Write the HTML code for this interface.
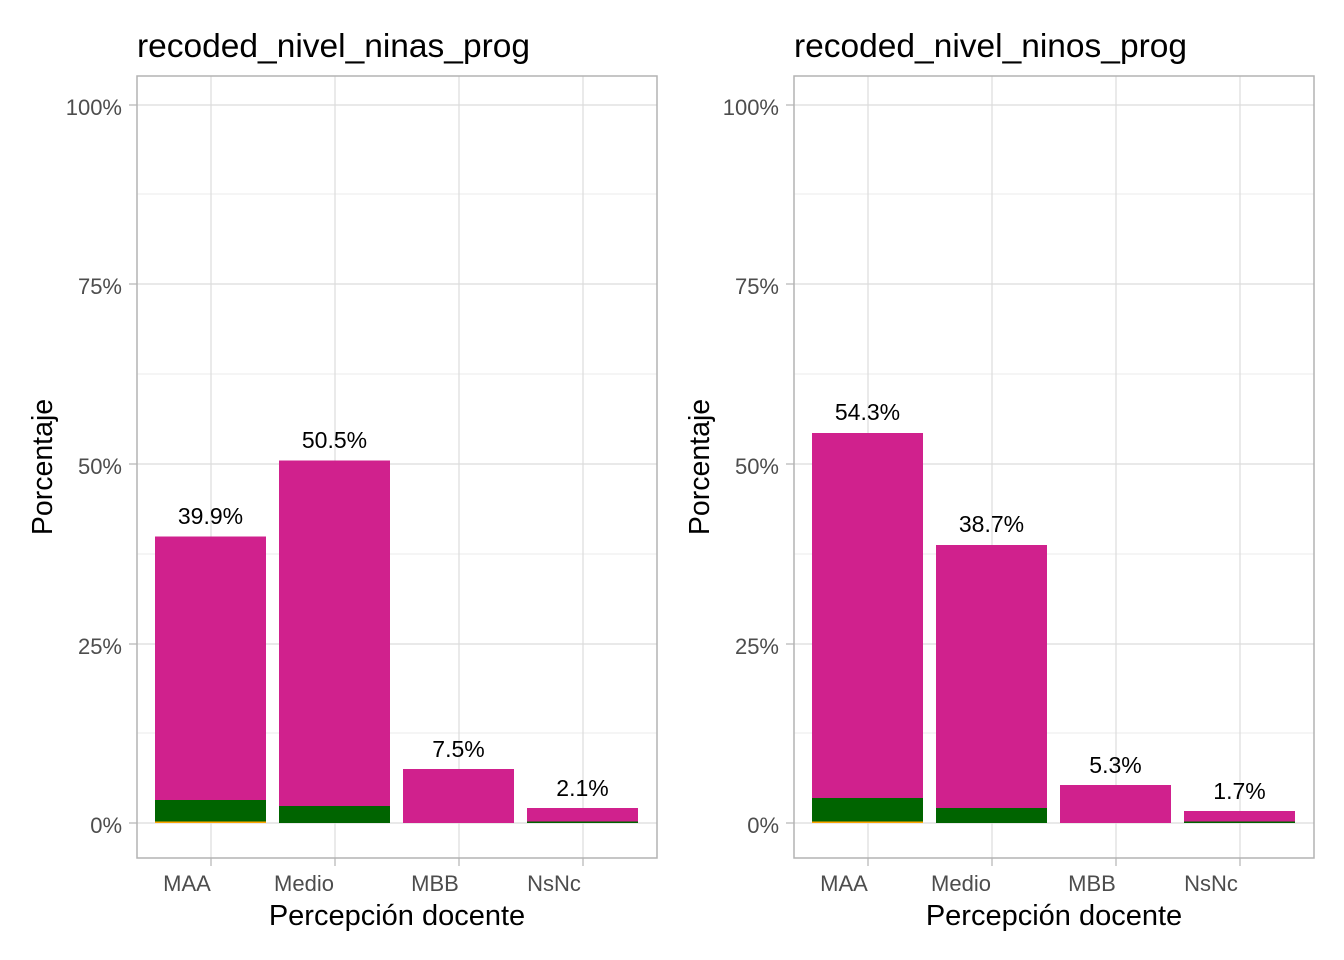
<!DOCTYPE html>
<html><head><meta charset="utf-8"><style>body{margin:0;background:#fff}svg{display:block}text{font-family:"Liberation Sans",Arial,sans-serif}</style></head>
<body>
<svg width="1344" height="960" viewBox="0 0 1344 960" xmlns="http://www.w3.org/2000/svg">
<defs>
<g id="frame">
  <g stroke="#ebebeb" stroke-width="1">
    <line x1="137" x2="657" y1="194" y2="194"/><line x1="137" x2="657" y1="374" y2="374"/>
    <line x1="137" x2="657" y1="554" y2="554"/><line x1="137" x2="657" y1="733" y2="733"/>
  </g>
  <g stroke="#dcdcdc" stroke-width="1.2">
    <line x1="137" x2="657" y1="105" y2="105"/><line x1="137" x2="657" y1="284" y2="284"/>
    <line x1="137" x2="657" y1="464" y2="464"/><line x1="137" x2="657" y1="644" y2="644"/>
    <line x1="137" x2="657" y1="823" y2="823"/>
    <line x1="211" x2="211" y1="76" y2="858"/><line x1="335" x2="335" y1="76" y2="858"/>
    <line x1="459" x2="459" y1="76" y2="858"/><line x1="583" x2="583" y1="76" y2="858"/>
  </g>
  <g stroke="#b3b3b3" stroke-width="1.2">
    <line x1="129" x2="137" y1="105" y2="105"/><line x1="129" x2="137" y1="284" y2="284"/>
    <line x1="129" x2="137" y1="464" y2="464"/><line x1="129" x2="137" y1="644" y2="644"/>
    <line x1="129" x2="137" y1="823" y2="823"/>
    <line x1="211" x2="211" y1="858" y2="866"/><line x1="335" x2="335" y1="858" y2="866"/>
    <line x1="459" x2="459" y1="858" y2="866"/><line x1="583" x2="583" y1="858" y2="866"/>
  </g>
  <g font-size="22" fill="#4d4d4d" text-anchor="end">
    <text x="122" y="115">100%</text><text x="122" y="294">75%</text>
    <text x="122" y="474">50%</text><text x="122" y="654">25%</text><text x="122" y="833">0%</text>
  </g>
  <g font-size="22" fill="#4d4d4d" text-anchor="middle">
    <text x="187" y="891">MAA</text><text x="304" y="891">Medio</text>
    <text x="435" y="891">MBB</text><text x="554" y="891">NsNc</text>
  </g>
  <text x="397" y="925" font-size="29" text-anchor="middle" fill="#000">Percepción docente</text>
  <text transform="translate(52,467) rotate(-90)" font-size="28.5" text-anchor="middle" fill="#000">Porcentaje</text>
</g>
</defs>

<use href="#frame"/>
<g>
  <rect x="155" y="536.5" width="111" height="286.5" fill="#d0218d"/>
  <rect x="155" y="800" width="111" height="23" fill="#006400"/>
  <rect x="155" y="821.5" width="111" height="1.5" fill="#ffa500"/>
  <rect x="279" y="460.5" width="111" height="362.5" fill="#d0218d"/>
  <rect x="279" y="806" width="111" height="17" fill="#006400"/>
  <rect x="403" y="769" width="111" height="54" fill="#d0218d"/>
  <rect x="527" y="808" width="111" height="15" fill="#d0218d"/>
  <rect x="527" y="821.5" width="111" height="1.5" fill="#006400"/>
  <g font-size="23" text-anchor="middle" fill="#000">
    <text x="210.5" y="524">39.9%</text><text x="334.5" y="448">50.5%</text>
    <text x="458.5" y="757">7.5%</text><text x="582.5" y="796">2.1%</text>
  </g>
  <text x="137" y="57" font-size="33.5" fill="#000">recoded_nivel_ninas_prog</text>
  <rect x="137" y="76" width="520" height="782" fill="none" stroke="#b3b3b3" stroke-width="1.5"/>
</g>

<g transform="translate(657,0)">
  <use href="#frame"/>
  <rect x="155" y="433" width="111" height="390" fill="#d0218d"/>
  <rect x="155" y="798" width="111" height="25" fill="#006400"/>
  <rect x="155" y="821.5" width="111" height="1.5" fill="#ffa500"/>
  <rect x="279" y="545" width="111" height="278" fill="#d0218d"/>
  <rect x="279" y="808" width="111" height="15" fill="#006400"/>
  <rect x="403" y="785" width="111" height="38" fill="#d0218d"/>
  <rect x="527" y="811" width="111" height="12" fill="#d0218d"/>
  <rect x="527" y="821.5" width="111" height="1.5" fill="#006400"/>
  <g font-size="23" text-anchor="middle" fill="#000">
    <text x="210.5" y="420">54.3%</text><text x="334.5" y="532">38.7%</text>
    <text x="458.5" y="773">5.3%</text><text x="582.5" y="799">1.7%</text>
  </g>
  <text x="137" y="57" font-size="33.5" fill="#000">recoded_nivel_ninos_prog</text>
  <rect x="137" y="76" width="520" height="782" fill="none" stroke="#b3b3b3" stroke-width="1.5"/>
</g>
</svg>
</body></html>
